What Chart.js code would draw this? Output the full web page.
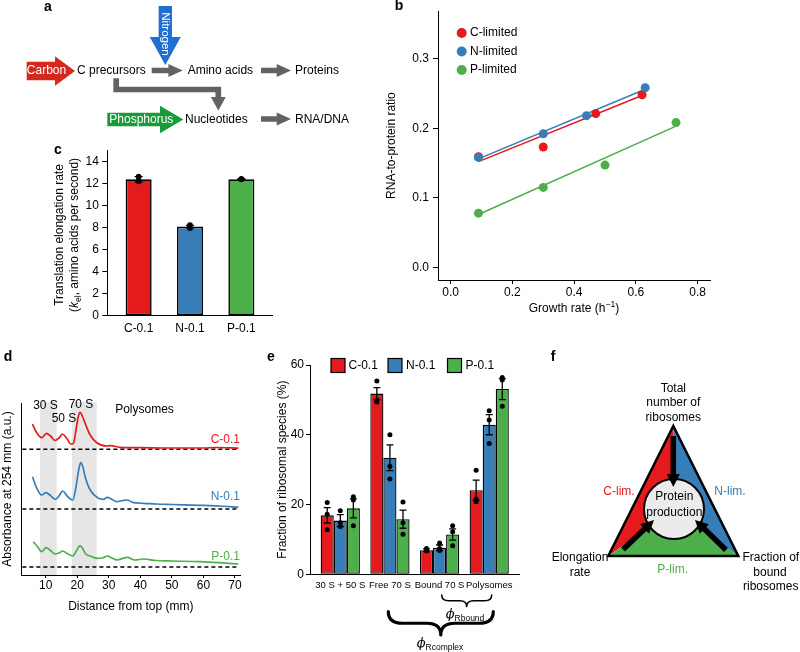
<!DOCTYPE html>
<html>
<head>
<meta charset="utf-8">
<script src="https://cdn.jsdelivr.net/npm/chart.js@4"></script>
<style>
  body { margin: 0; background: #fff; width: 800px; height: 652px; position: relative; overflow: hidden; }
  .box { position: absolute; }
  #over { position: absolute; left: 0; top: 0; pointer-events: none; }
</style>
</head>
<body>
<div class="box" style="left:380px;top:0;width:420px;height:330px"><canvas id="chartB"></canvas></div>
<div class="box" style="left:40px;top:140px;width:250px;height:200px"><canvas id="chartC"></canvas></div>
<div class="box" style="left:0;top:340px;width:255px;height:280px"><canvas id="chartD"></canvas></div>
<div class="box" style="left:240px;top:340px;width:300px;height:312px"><canvas id="chartE"></canvas></div>
<canvas id="over" width="800" height="652"></canvas>
<script>
const FONT = "'Liberation Sans', Arial, Helvetica, sans-serif";
const RED = '#e41a1c', BLUE = '#377eb8', GREEN = '#4daf4a';

// panel b - RNA/protein vs growth rate
const seriesB = ['C-limited', 'N-limited', 'P-limited'];
const growthC = [0.09, 0.30, 0.47, 0.62];
const ratioC = [0.159, 0.173, 0.221, 0.248];
const growthN = [0.09, 0.30, 0.44, 0.63];
const ratioN = [0.158, 0.192, 0.218, 0.258];
const growthP = [0.09, 0.30, 0.50, 0.73];
const ratioP = [0.078, 0.115, 0.147, 0.208];
const fitGrowthC = [0.09, 0.62], fitRatioC = [0.152, 0.247];
const fitGrowthN = [0.09, 0.63], fitRatioN = [0.156, 0.256];
const fitGrowthP = [0.09, 0.73], fitRatioP = [0.076, 0.203];
const ticksBx = [0, 0.2, 0.4, 0.6, 0.8];
const ticksBy = [0, 0.1, 0.2, 0.3];

// panel c - elongation rate
const condC = ['C-0.1', 'N-0.1', 'P-0.1'];
const rateC = [12.4, 8.1, 12.4];
const rateSemC = [0.25, 0.12, 0.05];
const ratePtsC = [[12.65, 12.2, 12.3], [8.25, 8.05, 7.95], [12.45, 12.4, 12.38]];
const ticksCy = [0, 2, 4, 6, 8, 10, 12, 14];

// panel d - polysome profiles
const posRed = [5.8, 7.0, 8.7, 10.3, 11.5, 13.0, 14.2, 15.3, 16.5, 18.0, 18.8, 19.6, 20.3, 20.9, 21.6, 22.5, 24.1, 26.2, 29.3, 30.5, 33.6, 40, 50, 60, 64, 71.1];
const absRed = [151, 143, 137.3, 141.7, 139, 134.5, 137, 141, 137.5, 131, 131.7, 145, 158, 162.7, 159, 151.7, 140, 132.3, 129, 129.3, 127.7, 127.3, 127, 127, 127.5, 126.8];
const posBlue = [5.8, 7.0, 8.7, 10.1, 11.5, 13.0, 14.2, 15.4, 16.8, 18.6, 19.6, 20.4, 21.1, 21.8, 22.5, 24.1, 26.7, 28.3, 29.5, 30.8, 32.5, 34.5, 35.9, 37.8, 41, 45, 50, 58.9, 65, 71.1];
const absBlue = [98.3, 88, 80, 82.3, 79.5, 75.7, 79, 84, 79, 75, 88, 104, 112.3, 108, 98.3, 85, 76.7, 75.7, 77.7, 76, 73.3, 74.5, 75, 72.3, 71.7, 71, 70.5, 69.7, 69, 67.7];
const posGreen = [6.1, 7.5, 8.7, 10.1, 11.5, 13.0, 14.2, 15.4, 16.8, 18.6, 19.7, 20.9, 21.8, 22.7, 24.5, 26.2, 28.0, 29.5, 31.0, 32.5, 35.9, 38.3, 41, 45, 50, 58.9, 65, 71.1];
const absGreen = [33.3, 28, 23.3, 27.3, 24.5, 21, 22, 24, 21.5, 19, 24, 29.3, 26, 21, 18.5, 16.7, 17, 19, 17, 15, 17.7, 15, 16, 14.5, 14, 13.3, 12.3, 11];
const baseLevels = [125.7, 66, 8];
const baseSpan = [2.6, 71.2];
const bandStart = [8.2, 18.3], bandEnd = [13.5, 26.2];
const ticksDx = [10, 20, 30, 40, 50, 60, 70];

// panel e - ribosomal species
const fracCats = ['30 S + 50 S', 'Free 70 S', 'Bound 70 S', 'Polysomes'];
const condE = ['C-0.1', 'N-0.1', 'P-0.1'];
const fracC = [16.9, 51.8, 6.9, 24.1];
const fracN = [15.4, 33.4, 7.6, 42.9];
const fracP = [18.9, 15.8, 11.4, 53.1];
const semC = [2.2, 1.7, 0.4, 2.9];
const semN = [1.7, 3.7, 0.8, 2.9];
const semP = [2.7, 2.6, 1.6, 3.0];
const ptsC = [[20.6, 17.2, 12.8], [55.4, 50.0, 49.4], [7.4, 7.0, 6.7], [29.8, 21.5, 20.8]];
const ptsN = [[18.2, 14.8, 13.7], [40.0, 31.0, 27.3], [9.0, 7.4, 6.8], [46.9, 44.2, 37.5]];
const ptsP = [[22.2, 21.3, 13.9], [20.7, 14.8, 11.5], [13.9, 12.2, 8.2], [56.4, 55.7, 48.2]];
const ticksEy = [0, 20, 40, 60];

Chart.defaults.font.family = FONT;
Chart.defaults.font.size = 12;
Chart.defaults.color = '#000';
Chart.defaults.animation = false;

function xy(xs, ys) { return xs.map((x, i) => ({ x: x, y: ys[i] })); }

function axis(o) {
  return {
    type: 'linear', min: o.min, max: o.max, offset: false,
    afterBuildTicks: s => { s.ticks = o.ticks.map(v => ({ value: v })); },
    afterFit: s => { if (s.isHorizontal()) s.height = o.size; else s.width = o.size; },
    ticks: { display: o.noLabels ? false : true, callback: o.fmt, padding: o.pad || 0, font: { size: o.fontSize || 12 },
             color: '#000', maxRotation: 0, autoSkip: false },
    grid: { display: o.tick > 0, drawOnChartArea: false, drawTicks: o.tick > 0, tickLength: o.tick || 0,
            color: '#000', offset: false },
    border: { display: true, color: '#000', width: 1 },
    title: o.title ? { display: true, text: o.title, padding: 0, font: { size: 12 }, color: '#000' } : { display: false }
  };
}

const noPlug = { legend: { display: false }, tooltip: { enabled: false } };

function errPlugin(sems, pts, cap, r) {
  return {
    id: 'errbars',
    afterDatasetsDraw(chart) {
      const ctx = chart.ctx, ys = chart.scales.y;
      chart.data.datasets.forEach((ds, k) => {
        chart.getDatasetMeta(k).data.forEach((bar, i) => {
          const v = ds.data[i].y, s = sems[k][i], x = bar.x;
          const yt = ys.getPixelForValue(v + s), yb = ys.getPixelForValue(v - s);
          ctx.save();
          ctx.strokeStyle = '#000'; ctx.lineWidth = 1.3;
          ctx.beginPath();
          ctx.moveTo(x, yt); ctx.lineTo(x, yb);
          ctx.moveTo(x - cap, yt); ctx.lineTo(x + cap, yt);
          ctx.moveTo(x - cap, yb); ctx.lineTo(x + cap, yb);
          ctx.stroke();
          ctx.fillStyle = '#000';
          pts[k][i].forEach(p => {
            ctx.beginPath(); ctx.arc(x, ys.getPixelForValue(p), r, 0, Math.PI * 2); ctx.fill();
          });
          ctx.restore();
        });
      });
    }
  };
}

// ---- b
function dots(label, data, col, order) {
  return { label: label, data: data, backgroundColor: col, borderWidth: 0, pointRadius: 4.5, order: order };
}
function fitLine(data, col) {
  return { data: data, borderColor: col, borderWidth: 1.5, pointRadius: 0, showLine: true, order: 3 };
}
new Chart(document.getElementById('chartB'), {
  type: 'scatter',
  data: { datasets: [
    dots(seriesB[1], xy(growthN, ratioN), BLUE, 0),
    dots(seriesB[0], xy(growthC, ratioC), RED, 1),
    dots(seriesB[2], xy(growthP, ratioP), GREEN, 1),
    fitLine(xy(fitGrowthC, fitRatioC), RED),
    fitLine(xy(fitGrowthN, fitRatioN), BLUE),
    fitLine(xy(fitGrowthP, fitRatioP), GREEN)
  ] },
  options: {
    responsive: true, maintainAspectRatio: false,
    layout: { padding: { left: 4.8, top: 8, right: 90, bottom: 13.8 } },
    plugins: noPlug,
    scales: {
      x: axis({ min: -0.041, max: 0.84, ticks: ticksBx, size: 36.2, tick: 4, pad: 1.5, fmt: v => v.toFixed(1) }),
      y: axis({ min: -0.018, max: 0.368, ticks: ticksBy, size: 53.2, tick: 5, pad: 4, fmt: v => v.toFixed(1),
                title: 'RNA-to-protein ratio' })
    }
  }
});

// ---- c
new Chart(document.getElementById('chartC'), {
  type: 'bar',
  data: { datasets: [{
    data: xy(condC.map((c, i) => i), rateC),
    backgroundColor: [RED, BLUE, GREEN], borderColor: '#000', borderWidth: 1.6, borderSkipped: false,
    barPercentage: 0.507, categoryPercentage: 1
  }] },
  options: {
    responsive: true, maintainAspectRatio: false,
    layout: { padding: { left: 37.3, top: 10, right: 17.3, bottom: 0.3 } },
    plugins: noPlug,
    scales: {
      x: axis({ min: -0.61, max: 2.61, ticks: [0, 1, 2], size: 24, tick: 0, pad: 5.4, fmt: v => condC[v] }),
      y: axis({ min: 0, max: 15, ticks: ticksCy, size: 30, tick: 5, pad: 3.5, fmt: v => v })
    }
  },
  plugins: [errPlugin([rateSemC], [ratePtsC], 4, 2.8)]
});

// ---- d
const bandPlugin = {
  id: 'bands',
  beforeDatasetsDraw(chart) {
    const ctx = chart.ctx, xs = chart.scales.x, a = chart.chartArea;
    ctx.save(); ctx.fillStyle = '#e6e6e6';
    bandStart.forEach((b, i) => {
      const x0 = xs.getPixelForValue(b), x1 = xs.getPixelForValue(bandEnd[i]);
      ctx.fillRect(x0, a.top - 1, x1 - x0, a.bottom - a.top + 1);
    });
    ctx.restore();
  }
};
function trace(xs, ys, col) {
  return { data: xy(xs, ys), borderColor: col, borderWidth: 1.7, pointRadius: 0, showLine: true,
           cubicInterpolationMode: 'monotone' };
}
new Chart(document.getElementById('chartD'), {
  type: 'scatter',
  data: { datasets: [
    trace(posRed, absRed, RED),
    trace(posBlue, absBlue, BLUE),
    trace(posGreen, absGreen, GREEN)
  ].concat(baseLevels.map(b => ({
    data: xy(baseSpan, [b, b]), borderColor: '#000', borderWidth: 1.5, borderDash: [4, 3],
    pointRadius: 0, showLine: true
  }))) },
  options: {
    responsive: true, maintainAspectRatio: false,
    layout: { padding: { left: 0, top: 63, right: 15, bottom: 6.1 } },
    plugins: noPlug,
    scales: {
      x: axis({ min: 2.39, max: 71.6, ticks: ticksDx, size: 38.9, tick: 3, pad: 0, fmt: v => v,
                title: 'Distance from top (mm)' }),
      y: axis({ min: 0, max: 172, ticks: [], size: 21.7, tick: 0, noLabels: true,
                title: 'Absorbance at 254 mm (a.u.)' })
    }
  },
  plugins: [bandPlugin]
});

// ---- e
function barSet(label, vals, col) {
  return { label: label, data: xy(fracCats.map((c, i) => i), vals), backgroundColor: col, borderColor: '#000',
           borderWidth: 1.3, borderSkipped: false, barPercentage: 1, categoryPercentage: 0.79 };
}
new Chart(document.getElementById('chartE'), {
  type: 'bar',
  data: { datasets: [barSet(condE[0], fracC, RED), barSet(condE[1], fracN, BLUE), barSet(condE[2], fracP, GREEN)] },
  options: {
    responsive: true, maintainAspectRatio: false,
    layout: { padding: { left: 35.8, top: 25, right: 21, bottom: 57.7 } },
    plugins: noPlug,
    scales: {
      x: axis({ min: -0.61, max: 3.6, ticks: [0, 1, 2, 3], size: 20, tick: 0, pad: 5.8, fontSize: 9.5,
                fmt: v => fracCats[v] }),
      y: axis({ min: 0, max: 60, ticks: ticksEy, size: 34.2, tick: 4, pad: 2, fmt: v => v,
                title: 'Fraction of ribosomal species (%)' })
    }
  },
  plugins: [errPlugin([semC, semN, semP], [ptsC, ptsN, ptsP], 3.5, 2.5)]
});

// ---- overlay: diagrams, legends, labels
const ov = document.getElementById('over').getContext('2d');

function txt(s, x, y, o) {
  o = o || {};
  ov.save();
  ov.font = (o.bold ? 'bold ' : '') + (o.size || 12) + 'px ' + FONT;
  ov.fillStyle = o.color || '#000';
  ov.textAlign = o.align || 'center';
  ov.textBaseline = 'middle';
  ov.translate(x, y);
  if (o.rot) ov.rotate(o.rot);
  ov.fillText(s, 0, 0);
  ov.restore();
}

function rich(segs, x, y, o) {
  o = o || {};
  const size = o.size || 12;
  ov.save();
  ov.translate(x, y);
  if (o.rot) ov.rotate(o.rot);
  const fontOf = s => (s.italic ? 'italic ' : '') + (s.size || ((s.sub || s.sup) ? size * 0.72 : size)) + 'px ' + (s.family || FONT);
  let w = 0;
  segs.forEach(s => { ov.font = fontOf(s); s.w = ov.measureText(s.t).width; w += s.w; });
  let cx = -w / 2;
  ov.textBaseline = 'middle';
  ov.fillStyle = o.color || '#000';
  segs.forEach(s => {
    ov.font = fontOf(s);
    ov.fillText(s.t, cx, s.sub ? size * 0.32 : (s.sup ? -size * 0.35 : 0));
    cx += s.w;
  });
  ov.restore();
}

function poly(pts, fill) {
  ov.beginPath();
  pts.forEach((p, i) => i ? ov.lineTo(p[0], p[1]) : ov.moveTo(p[0], p[1]));
  ov.closePath();
  ov.fillStyle = fill;
  ov.fill();
}
function hArrow(x0, x1, y, body, head, hl, col) {
  poly([[x0, y - body / 2], [x1 - hl, y - body / 2], [x1 - hl, y - head / 2], [x1, y],
        [x1 - hl, y + head / 2], [x1 - hl, y + body / 2], [x0, y + body / 2]], col);
}
function vArrow(x, y0, y1, body, head, hl, col) {
  poly([[x - body / 2, y0], [x + body / 2, y0], [x + body / 2, y1 - hl], [x + head / 2, y1 - hl], [x, y1],
        [x - head / 2, y1 - hl], [x - body / 2, y1 - hl]], col);
}
function lineArrow(x0, y0, x1, y1, lw, hl, hw) {
  const a = Math.atan2(y1 - y0, x1 - x0), c = Math.cos(a), s = Math.sin(a);
  const bx = x1 - c * hl, by = y1 - s * hl;
  ov.save();
  ov.strokeStyle = '#000'; ov.lineWidth = lw; ov.lineCap = 'butt';
  ov.beginPath(); ov.moveTo(x0, y0); ov.lineTo(bx + c, by + s); ov.stroke();
  ov.restore();
  poly([[x1, y1], [bx - s * hw / 2, by + c * hw / 2], [bx + s * hw / 2, by - c * hw / 2]], '#000');
}
function brace(x1, x2, yTop, yBot, lw) {
  const cx = (x1 + x2) / 2, ym = (yTop + yBot) / 2, q = (yBot - yTop) * 0.6;
  ov.save();
  ov.strokeStyle = '#000'; ov.lineWidth = lw; ov.lineJoin = 'round'; ov.lineCap = 'round';
  ov.beginPath();
  ov.moveTo(x1, yTop);
  ov.quadraticCurveTo(x1, ym, x1 + q, ym);
  ov.lineTo(cx - q, ym);
  ov.quadraticCurveTo(cx, ym, cx, yBot);
  ov.quadraticCurveTo(cx, ym, cx + q, ym);
  ov.lineTo(x2 - q, ym);
  ov.quadraticCurveTo(x2, ym, x2, yTop);
  ov.stroke();
  ov.restore();
}

// panel letters
[['a', 48, 7], ['b', 399, 6], ['c', 58, 150], ['d', 8, 357], ['e', 271, 357], ['f', 553, 357]]
  .forEach(l => txt(l[0], l[1], l[2], { bold: true, size: 14 }));

// panel a
const GRAY = '#626262';
hArrow(151.7, 182.7, 70.5, 5.7, 13, 14.3, GRAY);
hArrow(261, 291, 70.5, 5.7, 13, 14.3, GRAY);
hArrow(261, 291, 119, 5.7, 13, 14.3, GRAY);
ov.save();
ov.strokeStyle = GRAY; ov.lineWidth = 5.7; ov.lineJoin = 'miter';
ov.beginPath(); ov.moveTo(116.2, 78.3); ov.lineTo(116.2, 89.5); ov.lineTo(218.3, 89.5); ov.lineTo(218.3, 98.5); ov.stroke();
ov.restore();
poly([[210.8, 97], [225.8, 97], [218.3, 110.5]], GRAY);
hArrow(26.7, 75, 71, 18.3, 29.3, 20, '#d42a1e');
txt('Carbon', 46.5, 71, { color: '#fff' });
vArrow(165.3, 6, 65, 13.3, 31, 28, '#1f6fd1');
txt('Nitrogen', 165.5, 34, { color: '#fff', rot: Math.PI / 2, size: 11.5 });
hArrow(107.3, 183.3, 119.5, 13.3, 27.3, 23.3, '#199b3c');
txt('Phosphorus', 141.3, 119.5, { color: '#fff' });
txt('C precursors', 77, 70.5, { align: 'left' });
txt('Amino acids', 187.7, 70.5, { align: 'left' });
txt('Proteins', 295, 70.5, { align: 'left' });
txt('Nucleotides', 185, 119.5, { align: 'left' });
txt('RNA/DNA', 295, 119.5, { align: 'left' });

// panel b legend and x title
[RED, BLUE, GREEN].forEach((col, i) => {
  const y = 33 + i * 18.5;
  ov.beginPath(); ov.arc(461.7, y, 5, 0, Math.PI * 2); ov.fillStyle = col; ov.fill();
  txt(seriesB[i], 470, y, { align: 'left' });
});
rich([{ t: 'Growth rate (h' }, { t: '\u22121', sup: true }, { t: ')' }], 574, 309);

// panel c y title
txt('Translation elongation rate', 60, 235, { rot: -Math.PI / 2 });
rich([{ t: '(' }, { t: 'k', italic: true }, { t: 'el', sub: true }, { t: ', amino acids per second)' }], 74.3, 235,
     { rot: -Math.PI / 2 });

// panel d annotations
txt('30 S', 45.5, 406);
txt('50 S', 64, 418.5);
txt('70 S', 81, 405);
txt('Polysomes', 144.5, 410);
txt('C-0.1', 240, 440, { align: 'right', color: RED });
txt('N-0.1', 240, 497, { align: 'right', color: BLUE });
txt('P-0.1', 240, 557, { align: 'right', color: GREEN });

// panel e legend
[[331, 348.5, RED], [388, 406, BLUE], [447.5, 465.5, GREEN]].forEach((l, i) => {
  ov.fillStyle = l[2]; ov.fillRect(l[0], 358.5, 14, 14);
  ov.strokeStyle = '#000'; ov.lineWidth = 1.2; ov.strokeRect(l[0], 358.5, 14, 14);
  txt(condE[i], l[1], 365.5, { align: 'left' });
});
// panel e braces
brace(441.7, 491.7, 595, 606.5, 1.5);
brace(388.3, 493.3, 611.5, 635, 3.2);
const PHI = "'DejaVu Serif', 'Liberation Serif', serif";
rich([{ t: '\u03d5', italic: true, family: PHI, size: 13 }, { t: 'Rbound', sub: true, size: 8.5 }], 465, 615);
rich([{ t: '\u03d5', italic: true, family: PHI, size: 13 }, { t: 'Rcomplex', sub: true, size: 8.5 }], 440, 644);

// panel f
const T = [673.3, 426], L = [608.3, 556], R = [738.3, 556], C = [674, 509];
poly([T, L, C], RED);
poly([T, R, C], BLUE);
poly([L, R, C], GREEN);
ov.beginPath(); ov.arc(C[0], C[1], 30, 0, Math.PI * 2);
ov.fillStyle = '#ebebeb'; ov.fill();
ov.strokeStyle = '#000'; ov.lineWidth = 2; ov.stroke();
lineArrow(673.3, 436, 673.3, 487, 5.5, 13, 13);
lineArrow(623, 549.5, 654, 520, 5.5, 13, 13);
lineArrow(726, 550, 695, 520, 5.5, 13, 13);
ov.save();
ov.beginPath(); ov.moveTo(T[0], T[1]); ov.lineTo(L[0], L[1]); ov.lineTo(R[0], R[1]); ov.closePath();
ov.strokeStyle = '#000'; ov.lineWidth = 2.5; ov.lineJoin = 'miter'; ov.stroke();
ov.restore();
txt('Total', 673.3, 388.3);
txt('number of', 673.3, 402.7);
txt('ribosomes', 673.3, 417.3);
txt('Protein', 674.3, 497);
txt('production', 674.3, 512.3);
txt('C-lim.', 619, 491.7, { color: RED });
txt('N-lim.', 730, 491.7, { color: BLUE });
txt('P-lim.', 672.7, 569.3, { color: GREEN });
txt('Elongation', 580, 558);
txt('rate', 580, 573);
txt('Fraction of', 770.8, 557.3);
txt('bound', 770, 572.3);
txt('ribosomes', 770.7, 586.7);
</script>
</body>
</html>
